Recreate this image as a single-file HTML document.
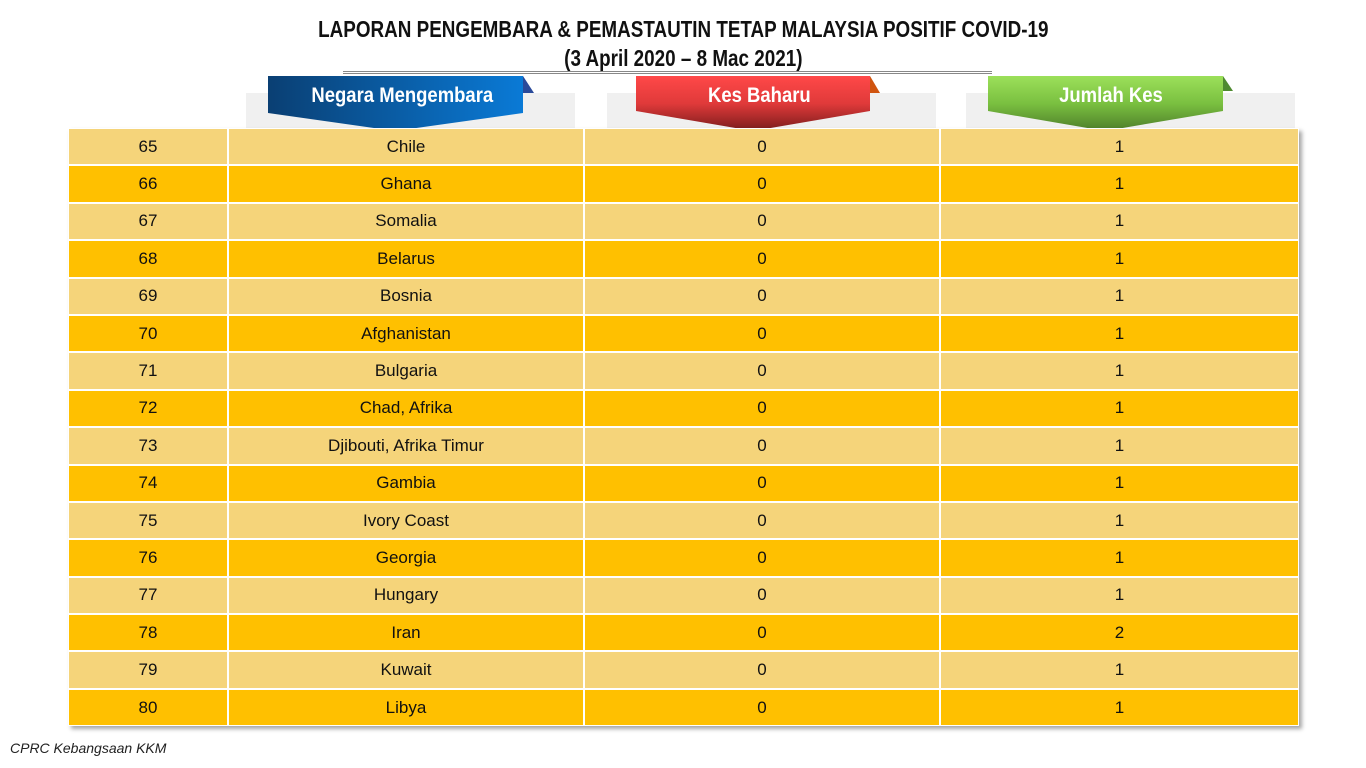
<!DOCTYPE html>
<html><head><meta charset="utf-8"><style>
body{margin:0;width:1366px;height:768px;background:#fff;position:relative;overflow:hidden;font-family:"Liberation Sans",sans-serif}
.t{position:absolute;left:0;width:1366px;text-align:center;font-weight:bold;color:#111;font-size:23px}
.t span{display:inline-block;transform:scaleX(0.82)}
.gray{position:absolute;background:#f0f0f0;top:93px;height:35px}
.ban{position:absolute;top:76px;height:56px}
.ban svg{position:absolute;left:0;top:0}
.ban div{position:absolute;left:0;right:0;top:8px;text-align:center;color:#fff;font-weight:bold;font-size:21px}
.ban div span{display:inline-block;transform:scaleX(0.88)}
#tbl{position:absolute;left:68px;top:128px;width:1231px;box-shadow:3px 3px 4px rgba(0,0,0,0.35)}
.row{display:flex;height:37.4px}
.c{box-sizing:border-box;border:1.5px solid #fff;display:flex;align-items:center;justify-content:center;font-size:17px;color:#111}
.l .c{background:#f5d47a}.d .c{background:#ffc000}
</style></head><body>
<div class="t" style="top:16px"><span>LAPORAN PENGEMBARA &amp; PEMASTAUTIN TETAP MALAYSIA POSITIF COVID-19</span></div>
<div class="t" style="top:45px"><span>(3 April 2020 – 8 Mac 2021)</span></div>
<div style="position:absolute;left:343px;top:71px;width:649px;height:0;border-top:1px solid #888;border-bottom:1px solid #888;height:1px"></div>
<div class="gray" style="left:246px;width:329px"></div>
<div class="gray" style="left:607px;width:329px"></div>
<div class="gray" style="left:966px;width:329px"></div>

<div class="ban" style="left:268px;width:268px">
<svg width="268" height="58"><defs><linearGradient id="gb" x1="0" x2="1"><stop offset="0" stop-color="#0a3f73"/><stop offset="1" stop-color="#0a7ad6"/></linearGradient></defs>
<polygon points="255,0 266,17 255,17" fill="#2a4a9a"/><polygon points="0,0 255,0 255,37 127,55 0,37" fill="url(#gb)"/></svg>
<div><span>Negara Mengembara</span></div></div>
<div class="ban" style="left:636px;width:246px">
<svg width="246" height="58"><defs><linearGradient id="gr" x1="0" y1="0" x2="0" y2="1"><stop offset="0" stop-color="#ff4848"/><stop offset="0.5" stop-color="#e03a3a"/><stop offset="1" stop-color="#7a1c1c"/></linearGradient></defs>
<polygon points="234,0 244,17 234,17" fill="#d0540f"/><polygon points="0,0 234,0 234,35 117,55 0,35" fill="url(#gr)"/></svg>
<div><span>Kes Baharu</span></div></div>
<div class="ban" style="left:988px;width:246px">
<svg width="246" height="58"><defs><linearGradient id="gg" x1="0" y1="0" x2="0" y2="1"><stop offset="0" stop-color="#9ce05a"/><stop offset="0.5" stop-color="#7ac040"/><stop offset="1" stop-color="#4e7e2a"/></linearGradient></defs>
<polygon points="235,0 245,15 235,15" fill="#4e8a30"/><polygon points="0,0 235,0 235,35 117,55 0,35" fill="url(#gg)"/></svg>
<div><span>Jumlah Kes</span></div></div>

<div id="tbl"></div>
<div style="position:absolute;left:10px;top:740px;font-size:14px;font-style:italic;color:#222">CPRC Kebangsaan KKM</div>
<script>
const nums=[65,66,67,68,69,70,71,72,73,74,75,76,77,78,79,80];
const countries=["Chile","Ghana","Somalia","Belarus","Bosnia","Afghanistan","Bulgaria","Chad, Afrika","Djibouti, Afrika Timur","Gambia","Ivory Coast","Georgia","Hungary","Iran","Kuwait","Libya"];
const newCases=[0,0,0,0,0,0,0,0,0,0,0,0,0,0,0,0];
const totalCases=[1,1,1,1,1,1,1,1,1,1,1,1,1,2,1,1];
const tbl=document.getElementById('tbl');
const widths=[160,356,356,359];
const names=['row-number','country-name','new-cases','total-cases'];
nums.forEach((n,i)=>{
  const r=document.createElement('div');
  r.className='row '+(i%2?'d':'l');
  
  
  [n,countries[i],newCases[i],totalCases[i]].forEach((v,j)=>{
    const c=document.createElement('div');
    c.className='c';c.style.width=widths[j]+'px';c.textContent=v;
    
    
    r.appendChild(c);
  });
  tbl.appendChild(r);
});
</script>
</body></html>
